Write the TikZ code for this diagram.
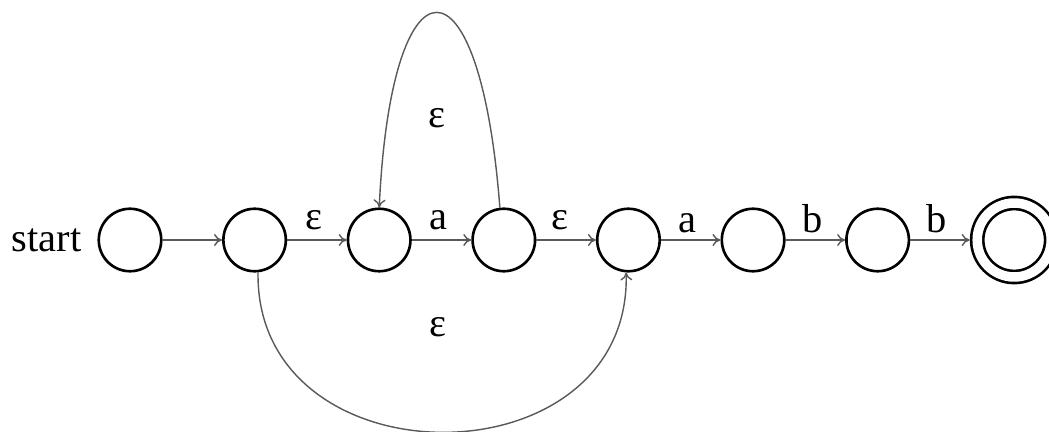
\documentclass[tikz,border=0pt]{standalone}
\usepackage{fontspec}
\setmainfont{Liberation Serif}
\usetikzlibrary{positioning,arrows.meta}

\begin{document}
\begin{tikzpicture}[
  x=0.02cm, y=-0.02cm,
  font=\fontsize{23}{27}\selectfont,
  >={To[length=1.6mm,width=2.4mm]},
  state/.style={circle, draw=black, line width=1.5pt, minimum size=12.5mm,
                inner sep=0pt},
  accept/.style={state, double, double distance=1.9mm, minimum size=14.8mm,
                 outer sep=1.5mm},
  trans/.style={->, draw=black!65, line width=0.8pt},
  lbl/.style={above, inner sep=1.8mm},
  lblr/.style={above, inner sep=1.2mm},
  node distance=11.9mm]

\useasboundingbox (0,0) rectangle (1049,432);

% ---------- states ----------
\node[state] (q0) at (130,240) {};
\node[left=2mm of q0] (start) {start};
\node[state, right=of q0] (q1) {};
\node[state, right=of q1] (q2) {};
\node[state, right=of q2] (q3) {};
\node[state, right=of q3] (q4) {};
\node[state, right=of q4] (q5) {};
\node[state, right=of q5] (q6) {};
\node[accept, right=of q6] (q7) {};

% ---------- transitions ----------
\draw[trans] (q0) -- (q1);
\draw[trans] (q1) -- node[lbl, pos=0.45] {ε} (q2);
\draw[trans] (q2) -- node[lbl, pos=0.45] {a} (q3);
\draw[trans] (q3) -- node[lbl, pos=0.4] {ε} (q4);
\draw[trans] (q4) -- node[lblr, pos=0.45] {a} (q5);
\draw[trans] (q5) -- node[lblr, pos=0.45] {b} (q6);
\draw[trans] (q6) -- node[lblr, pos=0.45] {b} (q7);
% epsilon loop back over the top
\draw[trans] (q3.97) .. controls +(-20,-262) and +(12,-258) .. (q2.north)
  node[pos=0.5, yshift=-21.2mm] {ε};
% epsilon skip underneath
\draw[trans] (q1.-84) .. controls +(-3,213) and +(5,213) .. (q4.-94)
  node[pos=0.5, xshift=-1mm, yshift=21mm] {ε};
\end{tikzpicture}
\end{document}
